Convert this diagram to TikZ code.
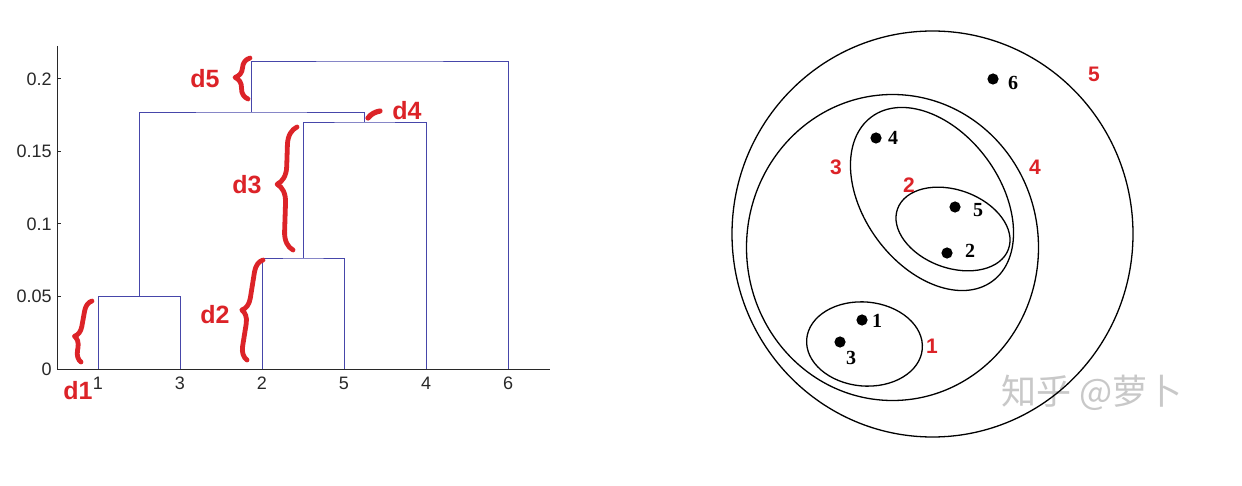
\documentclass[tikz,border=0pt]{standalone}
\usepackage{fontspec}
\setmainfont{Liberation Sans}
\newfontfamily\serifnum{Liberation Serif}
\newfontfamily\cjkfont{Noto Sans CJK SC}
\usetikzlibrary{decorations.pathreplacing}
\definecolor{dblue}{RGB}{70,70,170}
\definecolor{hred}{RGB}{220,35,40}
\definecolor{axisc}{RGB}{40,40,40}
\definecolor{wmark}{RGB}{200,200,200}
\begin{document}
\begin{tikzpicture}[x=0.5pt,y=-0.5pt,
  dendro/.style={draw=dblue, line width=0.45pt},
  axisline/.style={draw=axisc, line width=0.5pt},
  ticklab/.style={font=\fontsize{9}{10}\selectfont, text=axisc, inner sep=0pt},
  dlab/.style={font=\fontsize{12.5}{14}\bfseries\selectfont, text=hred, inner sep=0pt},
  hbrace/.style={draw=hred, line width=2.4pt, line cap=round, line join=round, decorate, decoration={brace, amplitude=#1}},
  hstroke/.style={draw=hred, line width=2.6pt, line cap=round},
  ring/.style={draw=black, line width=0.65pt},
  ptdot/.style={circle, fill=black, inner sep=0pt, minimum size=5.6pt},
  ptlab/.style={font=\serifnum\fontsize{10}{11}\bfseries\selectfont, inner sep=0pt},
  rnum/.style={font=\fontsize{10.5}{12}\bfseries\selectfont, text=hred, inner sep=0pt},
  wm/.style={font=\cjkfont\fontsize{17.5}{19}\selectfont, text=wmark, inner sep=0pt}
]
\fill[white] (0,0) rectangle (1242,486);
\useasboundingbox (0,0) rectangle (1242,486);

% ---------- dendrogram ----------
\draw[axisline] (57,46) -- (57,369) -- (550,369);
\foreach \yy/\lab in {369/0, 296.5/0.05, 224/0.1, 151.5/0.15, 79/0.2} {
  \draw[axisline] (57,\yy) -- (61,\yy);
  \node[ticklab, anchor=east] at (52,\yy) {\lab};
}
\coordinate (L1) at (98,369);
\coordinate (L3) at (180,369);
\coordinate (L2) at (262,369);
\coordinate (L5) at (344,369);
\coordinate (L4) at (426,369);
\coordinate (L6) at (508,369);
\coordinate (m13) at (139,296.5);
\coordinate (m25) at (303,258);
\coordinate (m254) at (364.5,122);
\coordinate (m13254) at (251,112);
\coordinate (mall) at (379.5,61);
\draw[dendro] (L1) |- (m13) -| (L3);
\draw[dendro] (L2) |- (m25) -| (L5);
\draw[dendro] (m25) |- (m254) -| (L4);
\draw[dendro] (m13) |- (m13254) -| (m254);
\draw[dendro] (m13254) |- (mall) -| (L6);
\foreach \n/\xx in {1/98, 3/180, 2/262, 5/344, 4/426, 6/508} {
  \node[ticklab] (leaf\n) at (\xx,383) {\n};
}

% red annotations
\draw[hbrace=5.5pt, decoration={aspect=0.39}] (81,362) -- (92,301);
\draw[hbrace=6.5pt, decoration={aspect=0.48}] (247,360) -- (263,260);
\draw[hbrace=9pt, decoration={aspect=0.53}] (293,250) -- (297,127);
\draw[hbrace=7pt, decoration={aspect=0.51}] (248,99) -- (250,58);
\draw[hstroke] (368,118) .. controls (371,114) and (375,112) .. (380,111);
\node[dlab] (d1) at (78,391) {d1};
\node[dlab] (d2) at (215,315) {d2};
\node[dlab] (d3) at (247,185) {d3};
\node[dlab] (d4) at (407,111) {d4};
\node[dlab] (d5) at (205,79) {d5};

% ---------- nested clusters ----------
\node[wm] (wmk) at (1092,393) {知乎 @萝卜};
\draw[ring] (932.5,234) ellipse [x radius=200.5, y radius=203];
\draw[ring] (892.5,247.5) ellipse [x radius=146, y radius=153];
\draw[ring, rotate around={-53.7:(932,199)}] (932,199) ellipse [x radius=102, y radius=68];
\draw[ring, rotate around={-20:(953,229)}] (953,229) ellipse [x radius=59, y radius=39];
\draw[ring, rotate around={-5:(864.5,344)}] (864.5,344) ellipse [x radius=58, y radius=42];

\node[ptdot] (p6) at (993,79) {};
\node[ptdot] (p4) at (876,138) {};
\node[ptdot] (p5) at (955,207) {};
\node[ptdot] (p2) at (947,253) {};
\node[ptdot] (p1) at (862,320) {};
\node[ptdot] (p3) at (840,342) {};
\node[ptlab] (t6) at (1013,83) {6};
\node[ptlab] (t4) at (893,138) {4};
\node[ptlab] (t5) at (978,210) {5};
\node[ptlab] (t2) at (970,251) {2};
\node[ptlab] (t1) at (877,321) {1};
\node[ptlab] (t3) at (851,358) {3};

\node[rnum] (c5) at (1094,74) {5};
\node[rnum] (c3) at (836,167) {3};
\node[rnum] (c2) at (909,185) {2};
\node[rnum] (c4) at (1035,167) {4};
\node[rnum] (c1) at (932,346) {1};
\end{tikzpicture}
\end{document}
